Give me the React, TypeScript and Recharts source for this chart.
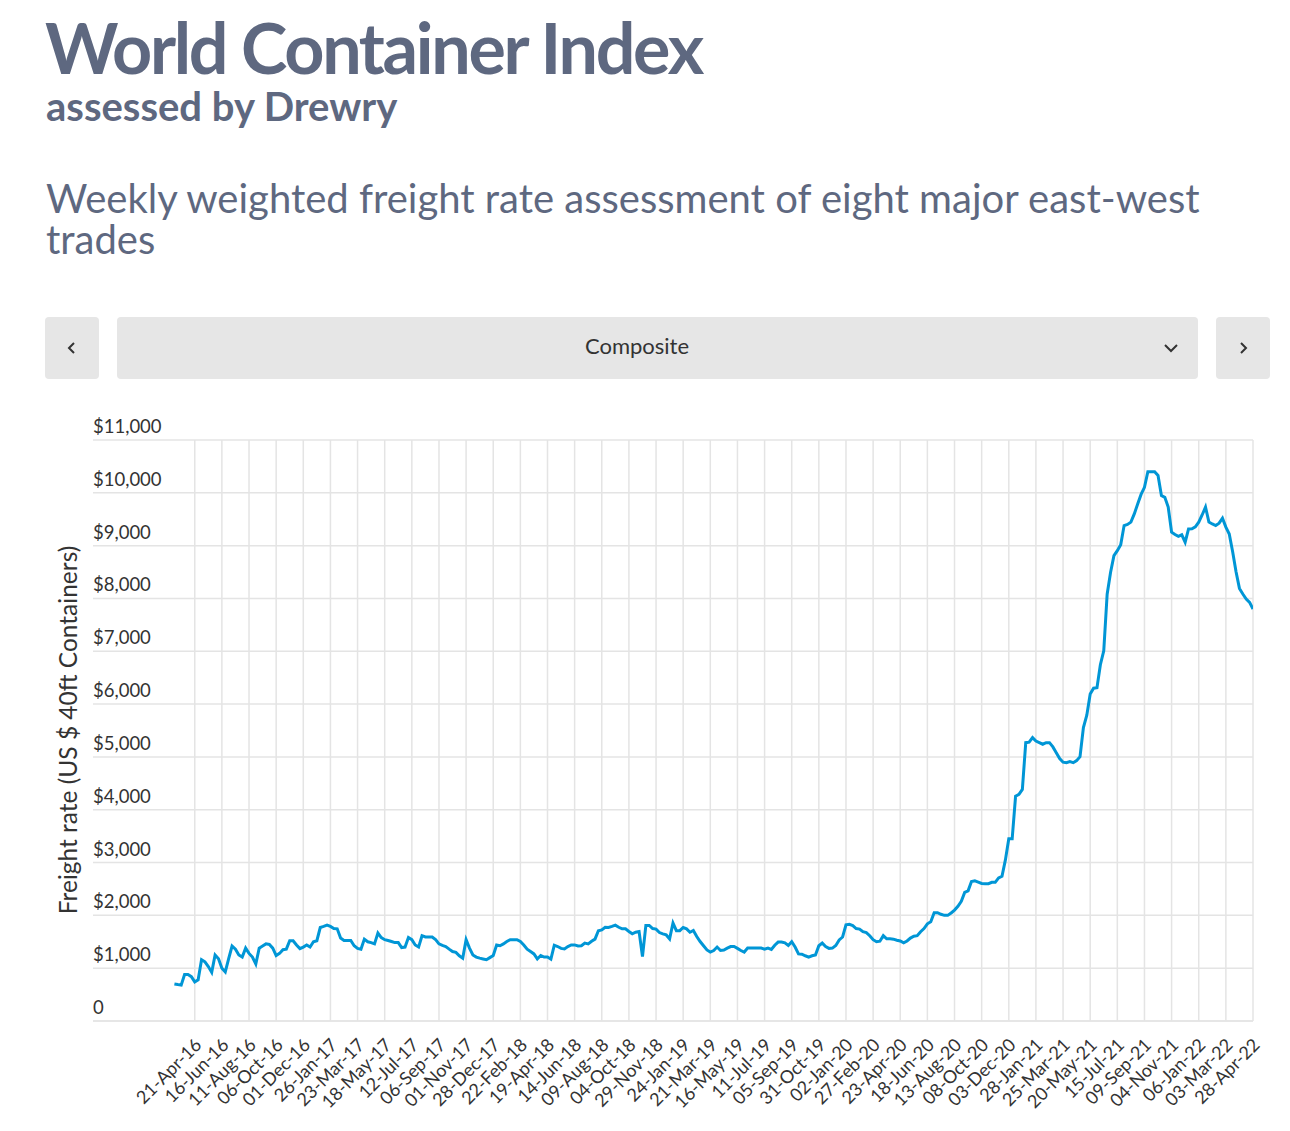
import { CartesianGrid, Line, LineChart, ReferenceLine, XAxis, YAxis } from 'recharts';

const TEXT = '#5e6880';
const INK = '#333333';
const GRID = '#e4e4e4';
const FONT = 'Lato, "Open Sans", sans-serif';
const PLOT_LEFT = 93;

// one label every 8th weekly assessment, first one at point 6
const xTickLabels = [
  '21-Apr-16', '16-Jun-16', '11-Aug-16', '06-Oct-16', '01-Dec-16', '26-Jan-17', '23-Mar-17', '18-May-17',
  '12-Jul-17', '06-Sep-17', '01-Nov-17', '28-Dec-17', '22-Feb-18', '19-Apr-18', '14-Jun-18', '09-Aug-18',
  '04-Oct-18', '29-Nov-18', '24-Jan-19', '21-Mar-19', '16-May-19', '11-Jul-19', '05-Sep-19', '31-Oct-19',
  '02-Jan-20', '27-Feb-20', '23-Apr-20', '18-Jun-20', '13-Aug-20', '08-Oct-20', '03-Dec-20', '28-Jan-21',
  '25-Mar-21', '20-May-21', '15-Jul-21', '09-Sep-21', '04-Nov-21', '06-Jan-22', '03-Mar-22', '28-Apr-22',
];
const firstLabelPoint = 6;
const labelEvery = 8;

const yTicks = [0, 1000, 2000, 3000, 4000, 5000, 6000, 7000, 8000, 9000, 10000, 11000];

// composite rate, US$ per 40ft, weekly
const composite = [
  702, 690, 680, 880, 880, 840, 740, 780, 1160, 1120,
  1030, 920, 1250, 1180, 1000, 930, 1180, 1420, 1360, 1250,
  1210, 1380, 1280, 1210, 1080, 1380, 1420, 1460, 1450, 1380,
  1240, 1280, 1350, 1360, 1520, 1520, 1440, 1370, 1400, 1440,
  1400, 1500, 1520, 1770, 1790, 1815, 1790, 1750, 1745, 1570,
  1525, 1525, 1525, 1425, 1375, 1360, 1550, 1500, 1485, 1460,
  1665, 1580, 1540, 1525, 1505, 1485, 1485, 1390, 1400, 1580,
  1540, 1440, 1400, 1615, 1590, 1590, 1590, 1540, 1460, 1430,
  1410, 1360, 1315, 1300, 1235, 1190, 1540, 1380, 1250, 1210,
  1190, 1175, 1160, 1200, 1240, 1440, 1425, 1460, 1505, 1540,
  1540, 1540, 1505, 1440, 1360, 1315, 1270, 1175, 1240, 1210,
  1210, 1170, 1435, 1410, 1375, 1365, 1410, 1440, 1440, 1420,
  1425, 1475, 1460, 1510, 1550, 1710, 1725, 1775, 1770, 1790,
  1815, 1775, 1745, 1745, 1695, 1650, 1680, 1695, 1220, 1810,
  1810, 1750, 1740, 1675, 1650, 1630, 1555, 1855, 1710, 1710,
  1770, 1745, 1680, 1715, 1600, 1505, 1425, 1345, 1305, 1335,
  1400, 1335, 1345, 1380, 1410, 1410, 1375, 1335, 1305, 1380,
  1380, 1380, 1380, 1380, 1360, 1380, 1355, 1435, 1495, 1495,
  1480, 1430, 1500, 1400, 1270, 1265, 1235, 1210, 1235, 1250,
  1425, 1475, 1410, 1375, 1380, 1430, 1535, 1590, 1820, 1830,
  1805, 1750, 1740, 1690, 1675, 1615, 1540, 1500, 1510, 1615,
  1555, 1555, 1550, 1530, 1515, 1480, 1515, 1570, 1605, 1615,
  1690, 1750, 1840, 1880, 2050, 2050, 2020, 2000, 2000, 2045,
  2100, 2170, 2265, 2435, 2465, 2640, 2655, 2630, 2605, 2600,
  2600, 2625, 2625, 2710, 2740, 3050, 3450, 3450, 4255, 4290,
  4385, 5270, 5280, 5365, 5300, 5270, 5240, 5270, 5270, 5190,
  5080, 4970, 4900, 4890, 4910, 4890, 4930, 5005, 5555, 5790,
  6190, 6300, 6310, 6745, 7010, 8080, 8490, 8810, 8905, 9015,
  9380, 9400, 9445, 9600, 9790, 9970, 10105, 10400, 10400, 10400,
  10330, 9950, 9915, 9730, 9255, 9210, 9175, 9205, 9065, 9315,
  9320, 9355, 9445, 9580, 9730, 9445, 9410, 9380, 9425, 9520,
  9350, 9220, 8885, 8505, 8190, 8085, 7990, 7925, 7800,
];

const data = composite.map((rate, i) => ({ i, rate }));
const xTicks = xTickLabels.map((_, k) => firstLabelPoint + k * labelEvery);
const labelAt = (i: number) => xTickLabels[(i - firstLabelPoint) / labelEvery] ?? '';

const money = (v: number) => (v === 0 ? '0' : `$${v.toLocaleString('en-US')}`);

// labels sit left-aligned just above their grid line
const YTick = ({ y, payload }: any) => (
  <text x={PLOT_LEFT} y={y - 7} textAnchor="start" fill={INK} fontSize={18.5} fontFamily={FONT}>
    {money(payload.value)}
  </text>
);

const XTick = ({ x, y, payload }: any) => {
  const px = x + 8;
  const py = y + 17;
  return (
    <text x={px} y={py} textAnchor="end" fill={INK} fontSize={18} fontFamily={FONT} transform={`rotate(-45, ${px}, ${py})`}>
      {labelAt(payload.value)}
    </text>
  );
};

const Chevron = ({ d }: { d: string }) => (
  <svg width={16} height={16} viewBox="0 0 16 16" style={{ display: 'block' }}>
    <polyline points={d} fill="none" stroke={INK} strokeWidth={2} />
  </svg>
);

const box = { position: 'absolute' as const, top: 317, height: 62, background: '#e6e6e6', borderRadius: 4 };

export default function App() {
  return (
    <div style={{ position: 'absolute', left: 0, top: 0, width: 1290, height: 1131, background: '#fff', fontFamily: FONT, overflow: 'hidden' }}>
      <div style={{ position: 'absolute', left: 45, top: 12, fontSize: 70, lineHeight: '70px', fontWeight: 700, letterSpacing: -2.3, color: TEXT, whiteSpace: 'nowrap' }}>
        World Container Index
      </div>
      <div style={{ position: 'absolute', left: 46, top: 86, fontSize: 40, lineHeight: '40px', fontWeight: 700, color: TEXT, whiteSpace: 'nowrap' }}>
        assessed by Drewry
      </div>
      <div style={{ position: 'absolute', left: 46, top: 178, width: 1200, fontSize: 40, lineHeight: '41px', fontWeight: 400, color: TEXT }}>
        Weekly weighted freight rate assessment of eight major east-west trades
      </div>

      <div style={{ ...box, left: 45, width: 54, display: 'flex', alignItems: 'center', justifyContent: 'center' }}>
        <Chevron d="10,3 5,8 10,13" />
      </div>
      <div style={{ ...box, left: 117, width: 1081 }}>
        <div style={{ position: 'absolute', left: 0, width: 1040, top: -2, lineHeight: '62px', textAlign: 'center', fontSize: 22, color: INK }}>
          Composite
        </div>
        <div style={{ position: 'absolute', left: 1046, top: 23 }}>
          <Chevron d="2,5 8,11 14,5" />
        </div>
      </div>
      <div style={{ ...box, left: 1216, width: 54, display: 'flex', alignItems: 'center', justifyContent: 'center' }}>
        <Chevron d="6,3 11,8 6,13" />
      </div>

      <div
        style={{
          position: 'absolute',
          left: 67,
          top: 730,
          transform: 'translate(-50%, -50%) rotate(-90deg)',
          fontSize: 24.5,
          color: INK,
          whiteSpace: 'nowrap',
        }}
      >
        Freight rate (US $ 40ft Containers)
      </div>

      <div style={{ position: 'absolute', left: 0, top: 400 }}>
        <LineChart width={1290} height={731} data={data} margin={{ top: 40, right: 37, bottom: 0, left: 13 }}>
          <CartesianGrid stroke={GRID} strokeWidth={1.5} vertical={false} />
          {xTicks.map((t) => (
            <ReferenceLine key={t} x={t} stroke={GRID} strokeWidth={1.5} />
          ))}
          <XAxis
            dataKey="i"
            type="number"
            domain={[-24, 318]}
            ticks={xTicks}
            interval={0}
            height={110}
            tick={<XTick />}
            tickLine={false}
            axisLine={{ stroke: GRID, strokeWidth: 1.5 }}
            allowDataOverflow
          />
          <YAxis
            type="number"
            domain={[0, 11000]}
            ticks={yTicks}
            width={80}
            interval={0}
            tick={<YTick />}
            tickLine={false}
            axisLine={false}
          />
          <Line type="linear" dataKey="rate" stroke="#0096d6" strokeWidth={3} dot={false} isAnimationActive={false} />
        </LineChart>
      </div>
    </div>
  );
}
